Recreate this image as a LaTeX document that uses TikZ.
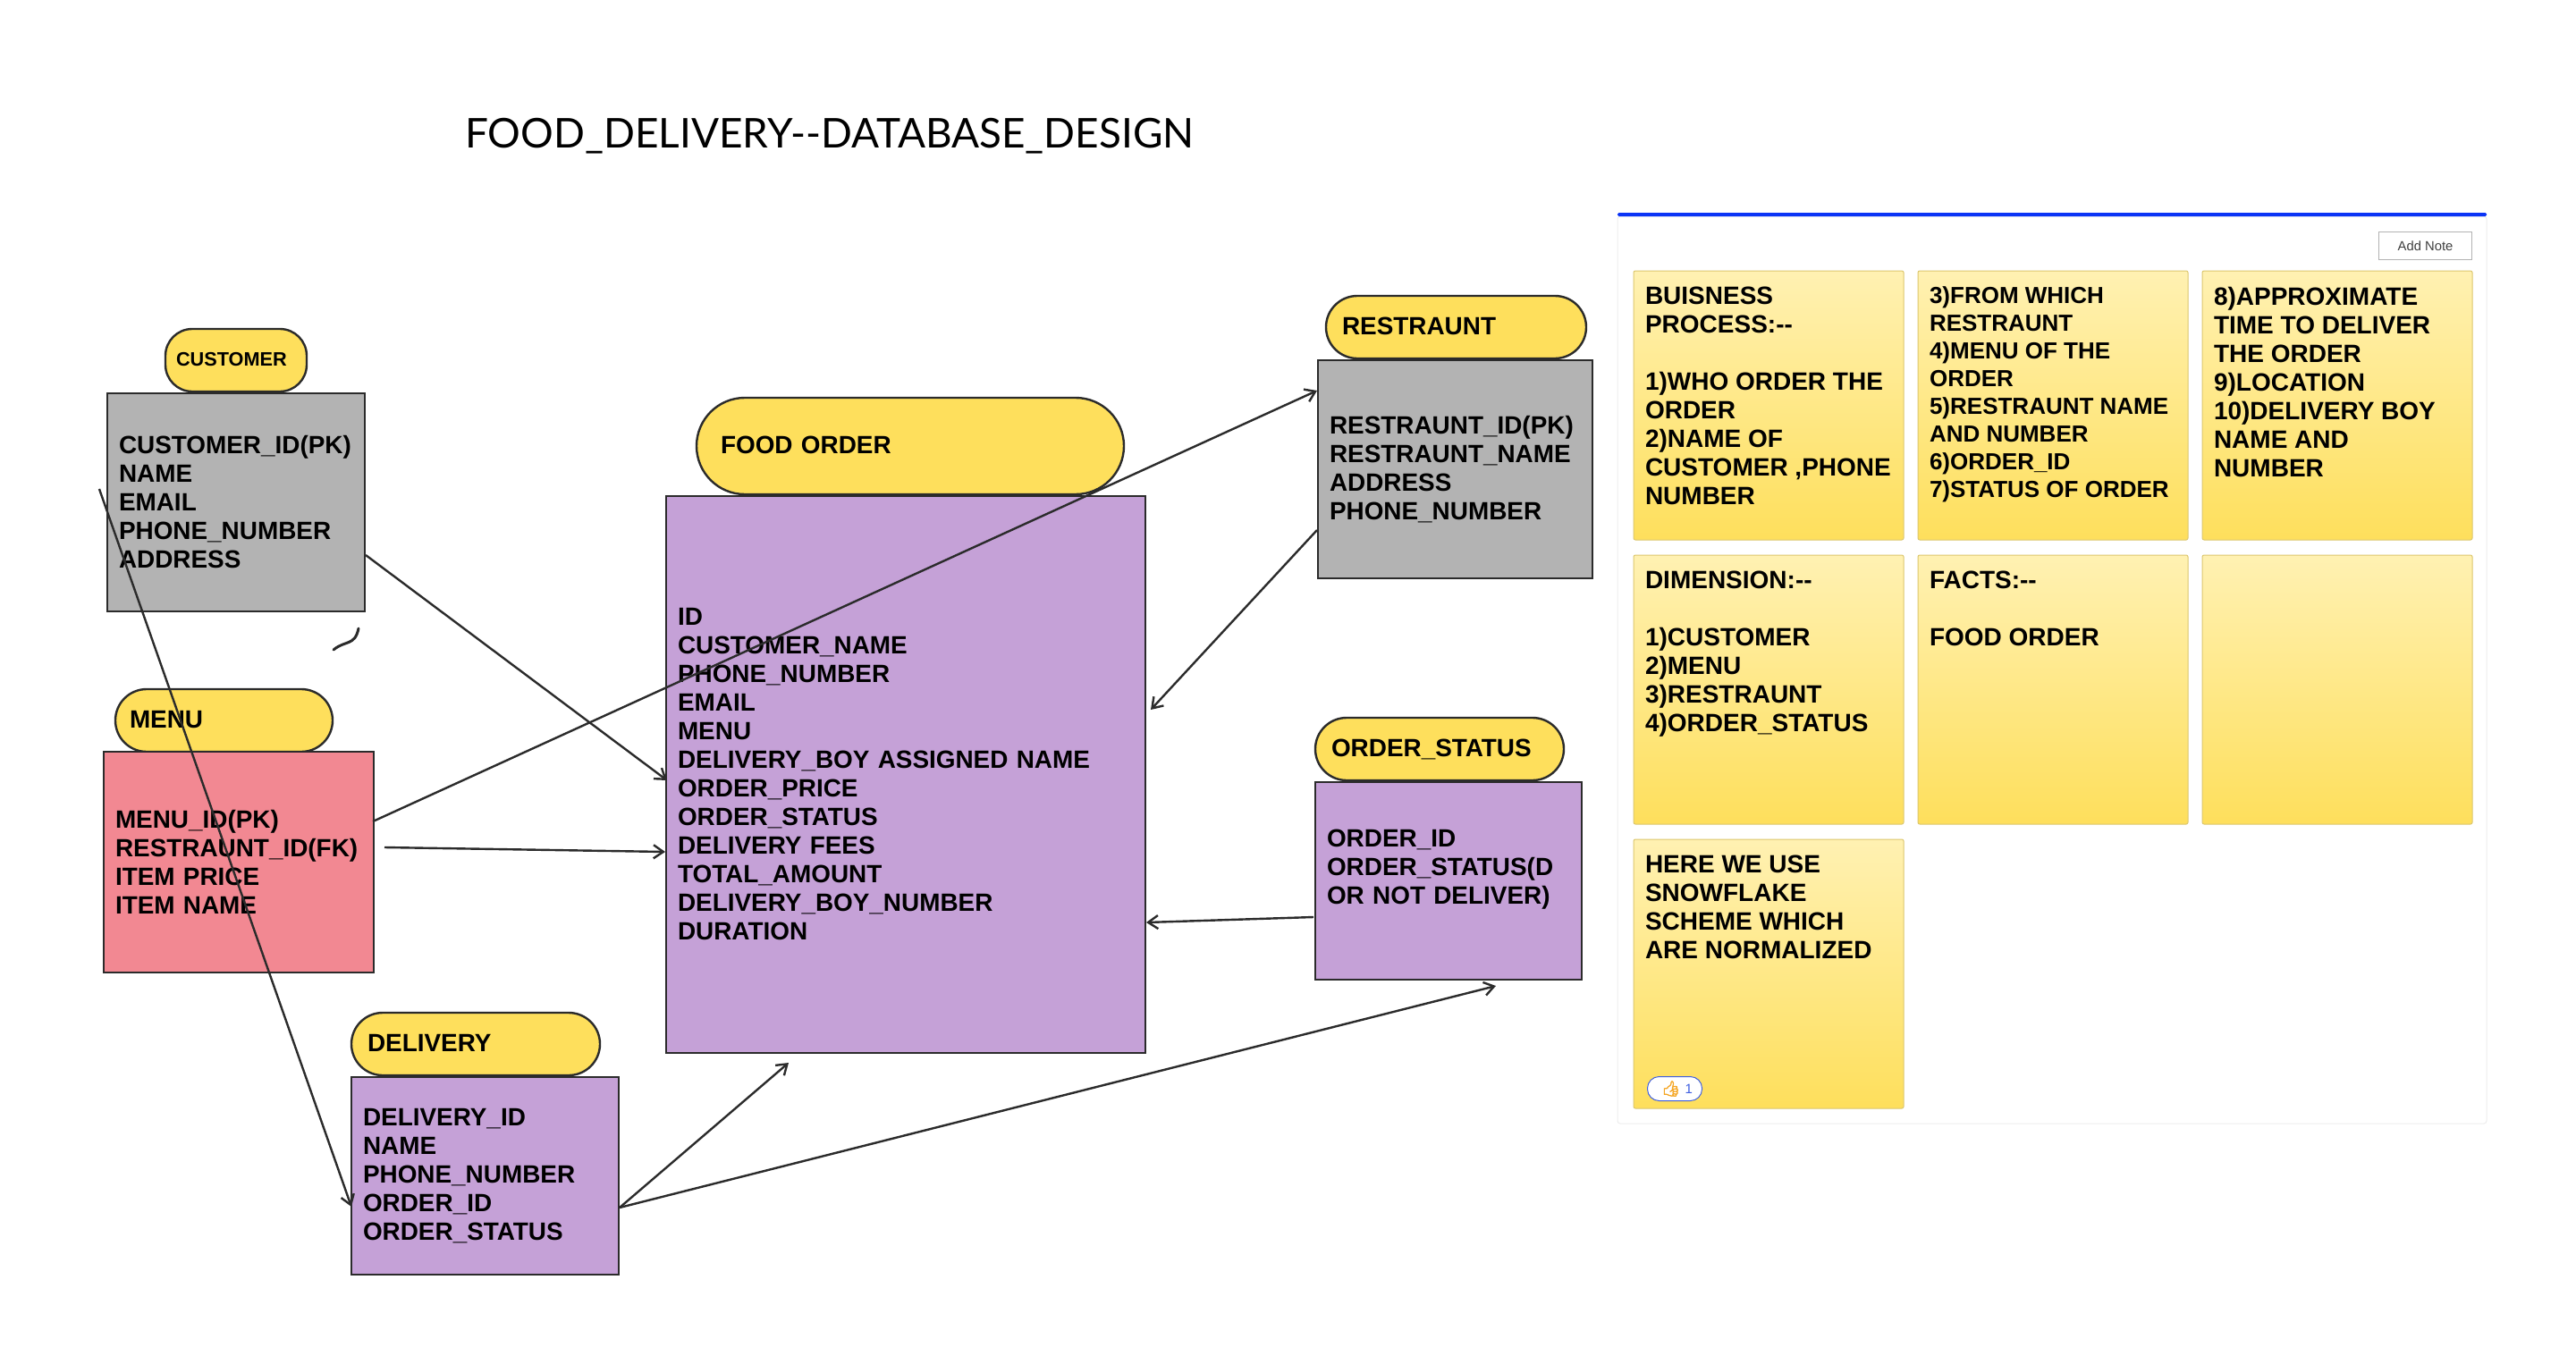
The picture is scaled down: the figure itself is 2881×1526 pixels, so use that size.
\documentclass[tikz,border=0pt]{standalone}
\usepackage{fontspec}
\setmainfont{Liberation Sans}
\newfontfamily\handfont{Lato}
\newfontfamily\emojifont[FakeBold=3]{Noto Emoji}
\usetikzlibrary{arrows.meta}

\definecolor{pillyellow}{HTML}{FEDF5C}
\definecolor{boxgray}{HTML}{B3B3B3}
\definecolor{boxpurple}{HTML}{C5A1D7}
\definecolor{boxpink}{HTML}{F28892}
\definecolor{inkgray}{HTML}{2B2B2B}
\definecolor{notetop}{HTML}{FFF1B2}
\definecolor{noteedge}{HTML}{DCC76E}
\definecolor{panelblue}{HTML}{0B34F6}
\definecolor{likeblue}{HTML}{3F5FE0}
\definecolor{likeorange}{HTML}{F5A623}

\newcommand{\notebody}[1]{\parbox[c][265pt][t]{276pt}{\raggedright #1}}

\tikzset{
  tablebox/.style 2 args={draw=inkgray, line width=2.4pt, anchor=north west, outer sep=0pt,
    minimum width=#1pt, minimum height=#2pt, text width=#1pt-26pt, inner xsep=13pt, inner ysep=0pt,
    align=left, font=\bfseries\fontsize{27.9}{32}\selectfont},
  pill/.style 2 args={draw=inkgray, line width=2.4pt, fill=pillyellow, anchor=north west, outer sep=0pt,
    rounded corners=35pt, minimum width=#1pt, minimum height=70pt, text width=#1pt-2*#2pt, inner xsep=#2pt,
    inner ysep=0pt, align=left, text height=18pt, text depth=1pt, font=\bfseries\fontsize{27.9}{32}\selectfont},
  note/.style={draw=noteedge, line width=1pt, top color=notetop, bottom color=pillyellow, anchor=north west,
    rounded corners=2pt, outer sep=0pt, minimum width=302pt, minimum height=301pt, inner xsep=13pt, inner ysep=18pt,
    font=\bfseries\fontsize{28}{32}\selectfont},
  conn/.style={draw=inkgray, line width=2.4pt, -{Straight Barb[length=11pt,width=15pt,line width=2.4pt]}}
}

\begin{document}
\begin{tikzpicture}[x=1pt,y=-1pt]
  \useasboundingbox (0,0) rectangle (2881,1526);
  \node[anchor=west, inner sep=0pt, font=\handfont\fontsize{45.9}{50}\selectfont] (title) at (520,152) {FOOD\_DELIVERY-{}-DATABASE\_DESIGN};

  % tables
  \node[pill={158}{12}, rounded corners=30pt, text height=13pt, font=\bfseries\fontsize{21.7}{26}\selectfont] (customerpill) at (185,368) {CUSTOMER};
  \node[tablebox={288}{244}, fill=boxgray] (customer) at (120,440) {CUSTOMER\_ID(PK)\\NAME\\EMAIL\\PHONE\_NUMBER\\ADDRESS};
  \node[pill={243}{16}] (menupill) at (129,771) {MENU};
  \node[tablebox={302}{247}, fill=boxpink] (menu) at (116,841) {MENU\_ID(PK)\\RESTRAUNT\_ID(FK)\\ITEM PRICE\\ITEM NAME};
  \node[pill={278}{18}] (deliverypill) at (393,1133) {DELIVERY};
  \node[tablebox={299}{221}, fill=boxpurple] (delivery) at (393,1205) {DELIVERY\_ID\\NAME\\PHONE\_NUMBER\\ORDER\_ID\\ORDER\_STATUS};
  \node[pill={478}{27}, rounded corners=54pt, minimum height=108pt] (foodpill) at (779,445) {FOOD ORDER};
  \node[tablebox={536}{623}, fill=boxpurple] (food) at (745,555) {ID\\CUSTOMER\_NAME\\PHONE\_NUMBER\\EMAIL\\MENU\\DELIVERY\_BOY ASSIGNED NAME\\ORDER\_PRICE\\ORDER\_STATUS\\DELIVERY FEES\\TOTAL\_AMOUNT\\DELIVERY\_BOY\_NUMBER\\DURATION};
  \node[pill={291}{18}] (restrauntpill) at (1483,331) {RESTRAUNT};
  \node[tablebox={307}{244}, fill=boxgray] (restraunt) at (1474,403) {RESTRAUNT\_ID(PK)\\RESTRAUNT\_NAME\\ADDRESS\\PHONE\_NUMBER};
  \node[pill={278}{18}] (statuspill) at (1471,803) {ORDER\_STATUS};
  \node[tablebox={298}{221}, fill=boxpurple] (status) at (1471,875) {ORDER\_ID\\ORDER\_STATUS(D\\OR NOT DELIVER)\\\mbox{}};

  % arrows
  \draw[conn] ([shift={(-9,-15)}]customer.west) -- ([shift={(0,34.5)}]delivery.west);
  \draw[conn] ([shift={(1,59)}]customer.east) -- ([shift={(1,6.5)}]food.west);
  \draw[conn] ([shift={(-1,-45.5)}]menu.east) -- ([shift={(-1,-88)}]restraunt.west);
  \draw[conn] ([shift={(12,-16.5)}]menu.east) -- ([shift={(-1,86.5)}]food.west);
  \draw[conn] ([shift={(-1,68)}]restraunt.west) -- ([shift={(6,-72.5)}]food.east);
  \draw[conn] ([shift={(-2,40.5)}]status.west) -- ([shift={(1,165.5)}]food.east);
  \draw[conn] ([shift={(1,35.5)}]delivery.east) -- ([shift={(-131,11)}]food.south);
  \draw[conn] ([shift={(1,35.5)}]delivery.east) -- ([shift={(53,7)}]status.south);
  \draw[draw=inkgray, line width=3pt, line cap=round] (373,727) .. controls (386,716) and (397,723) .. (401,703);

  % notes panel
  \node[draw=black!7, line width=1pt, fill=white, anchor=north west, rounded corners=3pt, minimum width=972pt, minimum height=1015pt, outer sep=0pt] (panel) at (1809,242) {};
  \node[fill=panelblue, anchor=south, minimum width=972pt, minimum height=4pt, inner sep=0pt, outer sep=0pt, rounded corners=1.5pt] (panelbar) at (panel.north) {};
  \node[draw=black!30, line width=1pt, fill=white, anchor=north west, minimum width=104pt, minimum height=31pt, inner sep=0pt, text=black!75, font=\fontsize{14.8}{18}\selectfont] (addnote) at (2660,259) {Add Note};
  \node[note] (noteA) at (1827,303) {\notebody{BUISNESS\\PROCESS:-{}-\\\mbox{}\\1)WHO ORDER THE\\ORDER\\2)NAME OF\\CUSTOMER ,PHONE\\NUMBER}};
  \node[note, font=\bfseries\fontsize{26}{31}\selectfont] (noteB) at (2145,303) {\notebody{3)FROM WHICH\\RESTRAUNT\\4)MENU OF THE\\ORDER\\5)RESTRAUNT NAME\\AND NUMBER\\6)ORDER\_ID\\7)STATUS OF ORDER}};
  \node[note] (noteC) at (2463,303) {\notebody{8)APPROXIMATE\\TIME TO DELIVER\\THE ORDER\\9)LOCATION\\10)DELIVERY BOY\\NAME AND\\NUMBER}};
  \node[note] (noteD) at (1827,621) {\notebody{DIMENSION:-{}-\\\mbox{}\\1)CUSTOMER\\2)MENU\\3)RESTRAUNT\\4)ORDER\_STATUS}};
  \node[note] (noteE) at (2145,621) {\notebody{FACTS:-{}-\\\mbox{}\\FOOD ORDER}};
  \node[note] (noteF) at (2463,621) {\notebody{\mbox{}}};
  \node[note] (noteG) at (1827,939) {\notebody{HERE WE USE\\SNOWFLAKE\\SCHEME WHICH\\ARE NORMALIZED}};
  \node[draw=likeblue, line width=1pt, fill=white, rounded corners=13pt, anchor=north west, minimum width=61pt, minimum height=27pt, inner sep=0pt, font=\fontsize{17}{18}\selectfont] (likes) at (1842,1204) {\hspace*{5pt}{\emojifont\color{likeorange}\char"1F44D}\hspace{5pt}{\color{likeblue}\fontsize{15}{18}\selectfont 1}};
\end{tikzpicture}
\end{document}
